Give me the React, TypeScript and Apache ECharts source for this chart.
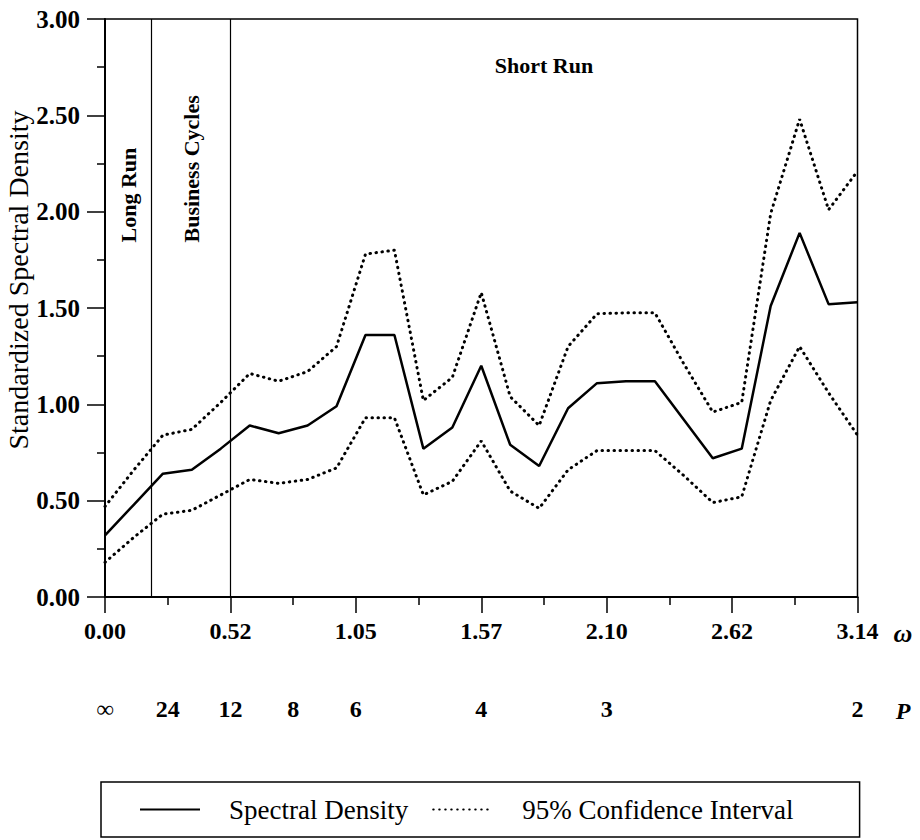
import { useEffect, useRef } from "react";
import * as echarts from "echarts";

// Fourier frequencies (radians)
const omega = [
  0, 0.1208, 0.2417, 0.3625, 0.4833, 0.6042, 0.725, 0.8458, 0.9666, 1.0875,
  1.2083, 1.3291, 1.45, 1.5708, 1.6916, 1.8125, 1.9333, 2.0541, 2.175, 2.2958,
  2.4166, 2.5374, 2.6583, 2.7791, 2.8999, 3.0208, 3.1416,
];
const spectral = [
  0.32, 0.48, 0.64, 0.66, 0.77, 0.89, 0.85, 0.89, 0.99, 1.36, 1.36, 0.77, 0.88,
  1.2, 0.79, 0.68, 0.98, 1.11, 1.12, 1.12, 0.92, 0.72, 0.77, 1.51, 1.89, 1.52, 1.53,
];
const upperCI = [
  0.47, 0.66, 0.84, 0.87, 1.01, 1.16, 1.12, 1.17, 1.3, 1.78, 1.8, 1.02, 1.14,
  1.58, 1.04, 0.89, 1.3, 1.47, 1.475, 1.475, 1.21, 0.96, 1.01, 1.99, 2.48, 2.01, 2.21,
];
const lowerCI = [
  0.18, 0.31, 0.43, 0.45, 0.53, 0.61, 0.59, 0.61, 0.67, 0.93, 0.93, 0.53, 0.6,
  0.81, 0.55, 0.46, 0.66, 0.76, 0.76, 0.76, 0.63, 0.49, 0.52, 1.02, 1.3, 1.06, 0.84,
];
const xTickLabels = ["0.00", "0.52", "1.05", "1.57", "2.10", "2.62", "3.14"];
const periodLabels = ["∞", "24", "12", "8", "6", "4", "3", "2"];
const periodOmega = [0, 0.2618, 0.5236, 0.7854, 1.0472, 1.5708, 2.0944, 3.1416];
const boundaryOmega = [0.1963, 0.5236];
const regionNames = ["Long Run", "Business Cycles", "Short Run"];
const yTitle = "Standardized Spectral Density";

const FONT = '"Liberation Serif", "Times New Roman", serif';
const STEP = Math.PI / 6;
const toAxis = (w: number) => Math.round((w / STEP) * 10000) / 10000;

export default function App() {
  const ref = useRef<HTMLDivElement>(null);
  useEffect(() => {
    if (!ref.current) return;
    const chart = echarts.init(ref.current, undefined, { renderer: "svg" });
    const periodX = periodOmega.map(toAxis);
    const tickLabelStyle = {
      color: "#000",
      fontFamily: FONT,
      fontSize: 24,
      fontWeight: "bold" as const,
    };
    const axisLineStyle = { color: "#000", width: 2 };
    const dotted = { color: "#000", width: 3, type: [0.5, 5.5], cap: "round" as const };
    const option: any = {
      animation: false,
      backgroundColor: "#fff",
      grid: {
        left: 105,
        right: 62.5,
        top: 19,
        bottom: 243,
        show: true,
        borderColor: "#000",
        borderWidth: 1.5,
        containLabel: false,
        outerBoundsMode: "none",
      },
      xAxis: [
        {
          type: "value",
          min: 0,
          max: 6,
          interval: 1,
          position: "bottom",
          axisLine: { show: true, onZero: false, lineStyle: axisLineStyle },
          axisTick: { show: true, length: 16, lineStyle: { color: "#000", width: 1.5 } },
          minorTick: { show: true, splitNumber: 2, length: 8, lineStyle: { color: "#000", width: 1.5 } },
          splitLine: { show: false },
          minorSplitLine: { show: false },
          axisLabel: {
            ...tickLabelStyle,
            margin: 22,
            formatter: (v: number) => xTickLabels[Math.round(v)] ?? "",
          },
        },
        {
          type: "value",
          min: 0,
          max: 6,
          position: "bottom",
          offset: 78,
          axisLine: { show: false },
          axisTick: { show: false },
          splitLine: { show: false },
          axisLabel: {
            ...tickLabelStyle,
            margin: 22,
            customValues: periodX,
            formatter: (v: number) => {
              const i = periodX.findIndex((p) => Math.abs(p - v) < 1e-3);
              return i >= 0 ? periodLabels[i] : "";
            },
          },
        },
      ],
      yAxis: {
        type: "value",
        min: 0,
        max: 3,
        interval: 0.5,
        axisLine: { show: true, onZero: false, lineStyle: axisLineStyle },
        axisTick: { show: true, length: 18, lineStyle: { color: "#000", width: 1.5 } },
        minorTick: { show: true, splitNumber: 2, length: 8, lineStyle: { color: "#000", width: 1.5 } },
        splitLine: { show: false },
        minorSplitLine: { show: false },
        axisLabel: { ...tickLabelStyle, fontSize: 25, margin: 25, formatter: (v: number) => v.toFixed(2) },
      },
      legend: {
        left: 101,
        top: 782,
        orient: "horizontal",
        padding: [14, 66, 14, 38],
        itemWidth: 60,
        itemHeight: 14,
        itemGap: 24,
        borderColor: "#000",
        borderWidth: 1.5,
        borderRadius: 0,
        itemStyle: { opacity: 0 },
        textStyle: { color: "#000", fontFamily: FONT, fontSize: 27, padding: [0, 0, 0, 24] },
        data: ["Spectral Density", "95% Confidence Interval"],
      },
      series: [
        {
          name: "Spectral Density",
          type: "line",
          data: omega.map((w, i) => [toAxis(w), spectral[i]]),
          symbol: "none",
          lineStyle: { color: "#000", width: 2.5 },
          itemStyle: { color: "#000" },
          markLine: {
            silent: true,
            symbol: ["none", "none"],
            label: { show: false },
            lineStyle: { color: "#000", width: 1.2, type: "solid" },
            data: boundaryOmega.map((w) => ({ xAxis: toAxis(w) })),
          },
        },
        {
          name: "95% Confidence Interval",
          type: "line",
          data: omega.map((w, i) => [toAxis(w), upperCI[i]]),
          symbol: "none",
          lineStyle: dotted,
          itemStyle: { color: "#000" },
        },
        {
          name: "95% Confidence Interval",
          type: "line",
          data: omega.map((w, i) => [toAxis(w), lowerCI[i]]),
          symbol: "none",
          lineStyle: dotted,
          itemStyle: { color: "#000" },
        },
      ],
    };
    chart.setOption(option);

    const px = (w: number, v: number) =>
      chart.convertToPixel({ xAxisIndex: 0, yAxisIndex: 0 }, [toAxis(w), v]) as number[];
    const pLong = px(boundaryOmega[0] / 2, 1.84);
    const pBiz = px((boundaryOmega[0] + boundaryOmega[1]) / 2, 1.84);
    const pShort = px((boundaryOmega[1] + Math.PI) / 2, 2.76);
    const bold22 = `bold 22px ${FONT}`;
    chart.setOption({
      graphic: [
        {
          type: "text",
          x: 18,
          y: 280,
          rotation: Math.PI / 2,
          style: { text: yTitle, font: `28px ${FONT}`, fill: "#000", align: "center", verticalAlign: "middle" },
        },
        {
          type: "text",
          x: pLong[0],
          y: pLong[1],
          rotation: Math.PI / 2,
          style: { text: regionNames[0], font: bold22, fill: "#000", align: "left", verticalAlign: "middle" },
        },
        {
          type: "text",
          x: pBiz[0],
          y: pBiz[1],
          rotation: Math.PI / 2,
          style: { text: regionNames[1], font: bold22, fill: "#000", align: "left", verticalAlign: "middle" },
        },
        {
          type: "text",
          x: pShort[0],
          y: pShort[1],
          style: { text: regionNames[2], font: bold22, fill: "#000", align: "center", verticalAlign: "middle" },
        },
        {
          type: "text",
          x: 903,
          y: 633,
          style: { text: "ω", font: `italic bold 26px ${FONT}`, fill: "#000", align: "center", verticalAlign: "middle" },
        },
        {
          type: "text",
          x: 903,
          y: 711,
          style: { text: "P", font: `italic bold 24px ${FONT}`, fill: "#000", align: "center", verticalAlign: "middle" },
        },
      ],
    });
    return () => chart.dispose();
  }, []);
  return (
    <div
      ref={ref}
      style={{ position: "fixed", left: 0, top: 0, width: 920, height: 840, background: "#fff" }}
    />
  );
}
